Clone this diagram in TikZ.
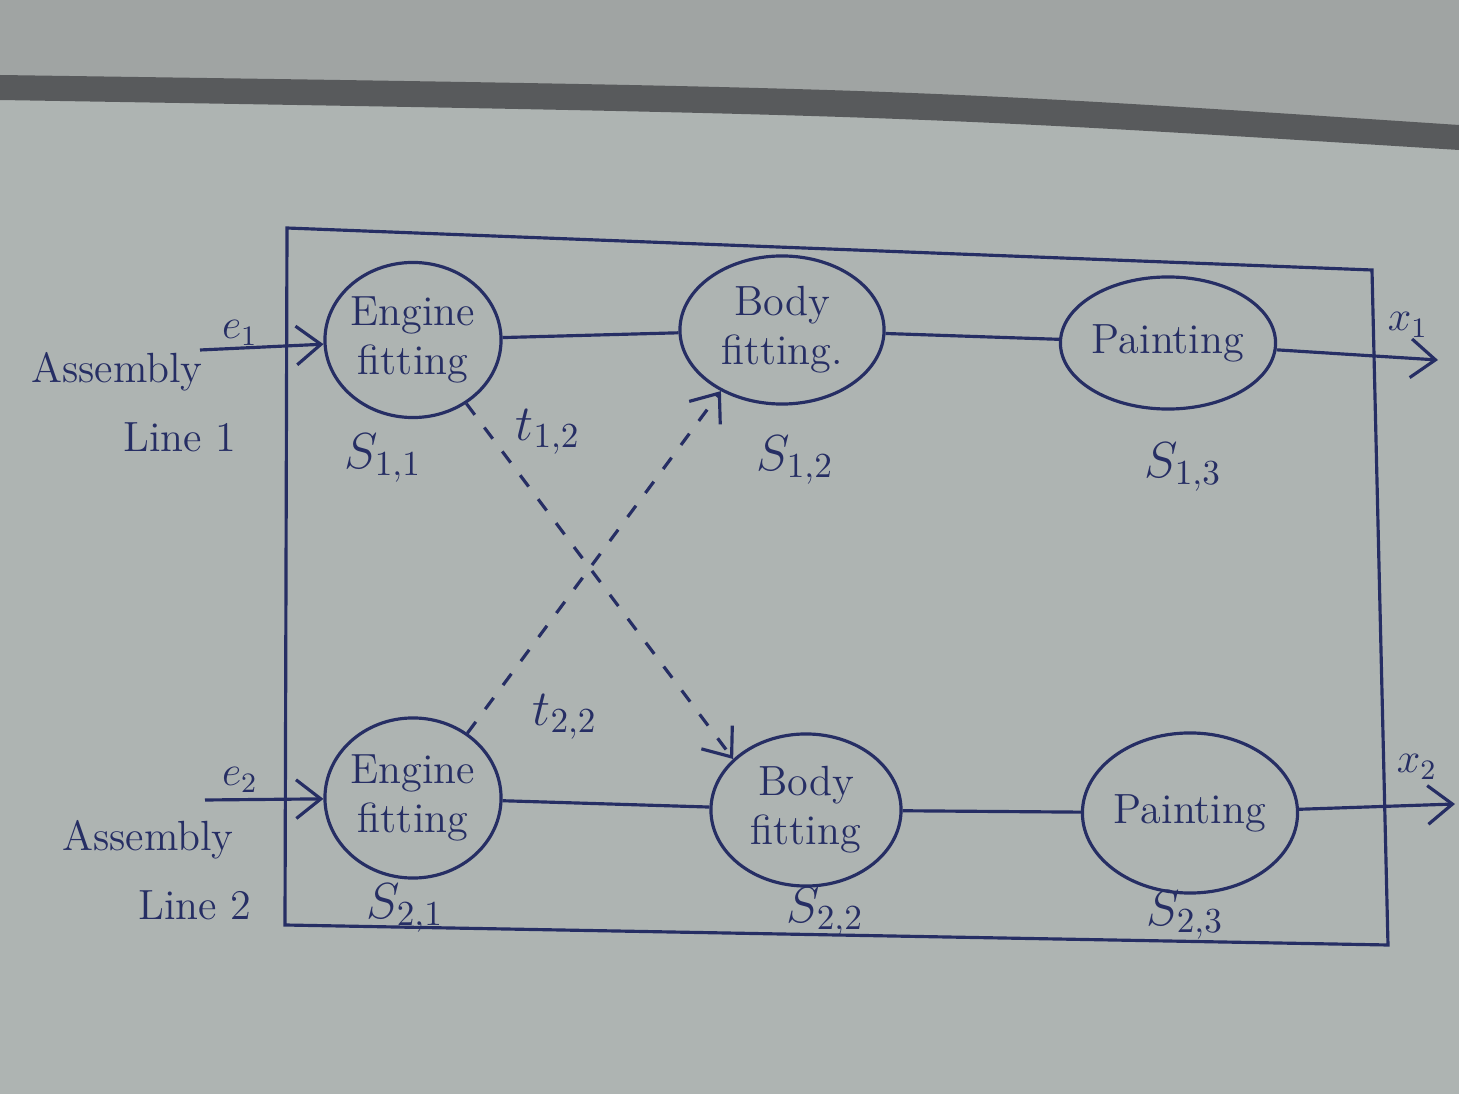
\documentclass[tikz,border=0pt]{standalone}
\usetikzlibrary{shapes.geometric,arrows.meta}
\definecolor{ink}{RGB}{38,46,100}
\definecolor{paper}{RGB}{174,180,178}
\definecolor{sheet}{RGB}{160,164,163}
\definecolor{fold}{RGB}{88,90,92}
\begin{document}
\begin{tikzpicture}[x=0.01cm, y=-0.01cm,
    st/.style = {draw=ink, line width=0.9pt, ellipse, inner sep=0pt, align=center, font=\large, text=ink},
    lab/.style = {font=\Large, text=ink},
    txt/.style = {font=\large, text=ink},
    ln/.style = {draw=ink, line width=0.9pt},
    tr/.style = {ln, dash pattern=on 4pt off 4.5pt},
    >={Straight Barb[length=7pt,width=11pt]}]
		\useasboundingbox (0,0) rectangle (1459,1094);
		\fill[paper] (0,0) rectangle (1459,1094);
		\fill[sheet] (0,0) -- (1459,0) -- (1459,130) .. controls (900,95) .. (0,78) -- cycle;
		\fill[fold] (0,75) .. controls (900,88) .. (1459,125) -- (1459,150) .. controls (900,115) .. (0,100) -- cycle;
		\coordinate (tl) at (287,228);
		\coordinate (tr) at (1372,270);
		\coordinate (br) at (1388,945);
		\coordinate (bl) at (285,925);
		\draw[ln] (tl) -- (tr) -- (br) -- (bl) -- cycle;
		\node[st, minimum width=1.68cm, minimum height=1.55cm] (s11) at (413,340) {Engine\\fitting};
		\node[st, minimum width=2.04cm, minimum height=1.48cm] (s12) at (782,330) {Body\\fitting.};
		\node[st, minimum width=1.88cm, minimum height=1.32cm] (s13) at (1168,343) {Painting};
		\node[st, minimum width=1.68cm, minimum height=1.6cm] (s21) at (413,798) {Engine\\fitting};
		\node[st, minimum width=1.9cm, minimum height=1.52cm] (s22) at (806,810) {Body\\fitting};
		\node[st, minimum width=2.1cm, minimum height=1.6cm] (s23) at (1190,813) {Painting};
		\node[lab] (n11) at (383,458) {$S_{1,1}$};
		\node[lab] (n12) at (795,460) {$S_{1,2}$};
		\node[lab] (n13) at (1183,467) {$S_{1,3}$};
		\node[lab] (n21) at (405,908) {$S_{2,1}$};
		\node[lab] (n22) at (825,912) {$S_{2,2}$};
		\node[lab] (n23) at (1185,915) {$S_{2,3}$};
		\node[txt] (a1) at (117,372) {Assembly};
		\node[txt] (l1) at (180,437) {Line 1};
		\node[txt] (a2) at (148,840) {Assembly};
		\node[txt] (l2) at (195,905) {Line 2};
		\coordinate (e1) at (200,350);
		\coordinate (e2) at (205,800);
		\coordinate (x1) at (1438,360);
		\coordinate (x2) at (1455,804);
		\node[txt] (le1) at (240,333) {$e_1$};
		\node[txt] (le2) at (240,780) {$e_2$};
		\node[txt] (lx1) at (1408,325) {$x_1$};
		\node[txt] (lx2) at (1417,767) {$x_2$};
		\node[lab] (t12) at (548,432) {$t_{1,2}$};
		\node[lab] (t22) at (565,717) {$t_{2,2}$};
		\draw[ln, ->] (e1) -- (s11);
		\draw[ln, ->] (e2) -- (s21);
		\draw[ln] (s11) -- (s12);
		\draw[ln] (s12) -- (s13);
		\draw[ln] (s21) -- (s22);
		\draw[ln] (s22) -- (s23);
		\draw[ln, ->] (s13) -- (x1);
		\draw[ln, ->] (s23) -- (x2);
		\draw[tr, ->] (s11.-50) -- (s22.145);
		\draw[tr, ->] (s21.50) -- (s12.-135);
	\end{tikzpicture}
\end{document}
